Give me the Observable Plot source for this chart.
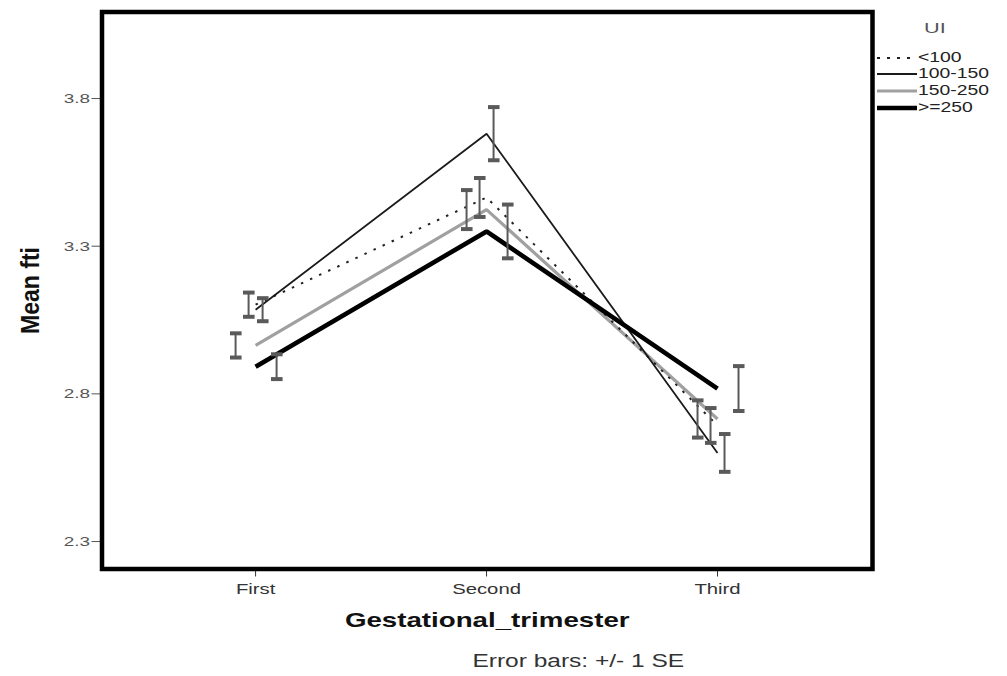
<!DOCTYPE html>
<html>
<head>
<meta charset="utf-8">
<script src="https://cdn.jsdelivr.net/npm/d3@7"></script>
<script src="https://cdn.jsdelivr.net/npm/@observablehq/plot@0.6"></script>
<style>
  body { margin: 0; background: #fff; }
  #wrap { position: relative; width: 1007px; height: 676px; overflow: hidden; }
  #legend { position: absolute; left: 0; top: 0; width: 1007px; height: 676px; pointer-events: none;
            font-family: "Liberation Sans", Arial, sans-serif; }
  #legend .title { position: absolute; left: 924px; top: 19px; font-size: 15.5px; color: #555;
                   transform: scaleX(1.4); transform-origin: left center; line-height: 18px; }
  #legend .row { position: absolute; left: 877px; height: 16px; display: flex; align-items: center; }
  #legend .row span { font-size: 13.8px; color: #222; display: inline-block; transform: scaleX(1.4);
                      transform-origin: left center; line-height: 16px; margin-left: 1px; }
</style>
</head>
<body>
<div id="wrap"><div id="legend"></div></div>
<script>
// ---- data ----
const trimesters = ["First", "Second", "Third"];
const groups = ["<100", "100-150", "150-250", ">=250"];
const meanLt100    = [3.102, 3.465, 2.693];
const mean100to150 = [3.085, 3.681, 2.600];
const mean150to250 = [2.964, 3.424, 2.715];
const meanGe250    = [2.892, 3.350, 2.818];
const seLt100    = [0.041, 0.066, 0.059];
const se100to150 = [0.039, 0.090, 0.064];
const se150to250 = [0.041, 0.066, 0.063];
const seGe250    = [0.042, 0.091, 0.076];
const yTicks = [2.3, 2.8, 3.3, 3.8];
const legendTitle = "UI";
const xLabel = "Gestational_trimester";
const yLabel = "Mean fti";
const caption = "Error bars: +/- 1 SE";

const means = [meanLt100, mean100to150, mean150to250, meanGe250];
const ses = [seLt100, se100to150, se150to250, seGe250];
const rows = groups.flatMap((g, k) =>
  trimesters.map((t, i) => ({group: g, i, trimester: t, mean: means[k][i], se: ses[k][i]})));

// ---- styles ----
const style = {
  "<100":    {stroke: "#222", strokeWidth: 2, strokeDasharray: "2.5,7.5", dodge: -7},
  "100-150": {stroke: "#1a1a1a", strokeWidth: 1.8, dodge: 7},
  "150-250": {stroke: "#a0a0a0", strokeWidth: 3.2, dodge: -20},
  ">=250":   {stroke: "#000", strokeWidth: 4.6, dodge: 21}
};
const drawOrder = ["150-250", "<100", "100-150", ">=250"];
const FONT = '"Liberation Sans", Arial, sans-serif';

const lineMarks = drawOrder.map(g => Plot.line(rows.filter(d => d.group === g), {
  x: "i", y: "mean",
  stroke: style[g].stroke, strokeWidth: style[g].strokeWidth,
  strokeDasharray: style[g].strokeDasharray, strokeLinecap: "butt", strokeLinejoin: "miter"
}));

const errMarks = groups.map(g => Plot.link(rows.filter(d => d.group === g), {
  x1: "i", x2: "i",
  y1: d => d.mean - d.se, y2: d => d.mean + d.se,
  dx: style[g].dodge,
  stroke: "#5a5a5a", strokeWidth: 2,
  markerStart: "tick", markerEnd: "tick"
}));

const chart = Plot.plot({
  width: 1007,
  height: 676,
  marginTop: 11.5,
  marginBottom: 107.5,
  marginLeft: 101.5,
  marginRight: 135,
  style: {fontFamily: FONT, fontSize: "14px", background: "#fff", color: "#000", overflow: "visible"},
  x: {domain: [-0.665, 2.671]},
  y: {domain: [2.207, 4.093]},
  marks: [
    ...lineMarks,
    ...errMarks,
    Plot.axisY({ticks: yTicks, tickSize: 10, tickPadding: 2, tickFormat: d => d.toFixed(1),
                fontSize: 13.5, color: "#555", label: null}),
    Plot.axisX({ticks: [0, 1, 2], tickSize: 8, tickPadding: 7, tickFormat: i => trimesters[i],
                fontSize: 14.5, color: "#333", label: null}),
    Plot.frame({stroke: "#000", strokeWidth: 4.5}),
    Plot.text([xLabel], {frameAnchor: "bottom", lineAnchor: "middle", textAnchor: "middle", dy: 52,
                         text: d => d, fontSize: 19.8, fontWeight: "bold", fill: "#111"}),
    Plot.text([caption], {frameAnchor: "bottom", lineAnchor: "middle", textAnchor: "middle", dx: 91, dy: 92.5,
                          text: d => d, fontSize: 17.5, fill: "#333"}),
    Plot.text([yLabel], {frameAnchor: "left", lineAnchor: "middle", textAnchor: "middle", dx: -71, rotate: -90,
                         text: d => d, fontSize: 25, fontWeight: "bold", fill: "#111"})
  ]
});

document.getElementById("wrap").prepend(chart);

// Emulate the horizontally stretched type of the original picture
chart.querySelectorAll("text").forEach(t => {
  const len = t.getComputedTextLength();
  if (!(len > 0)) return;
  if (t.textContent === yLabel) {
    t.setAttribute("textLength", "87");
  } else {
    t.setAttribute("textLength", (len * 1.4).toFixed(2));
  }
  t.setAttribute("lengthAdjust", "spacingAndGlyphs");
});

// ---- legend ----
const legend = document.getElementById("legend");
const title = document.createElement("div");
title.className = "title";
title.textContent = legendTitle;
legend.appendChild(title);
const rowTops = [50, 66, 83, 99.5];
groups.forEach((g, k) => {
  const row = document.createElement("div");
  row.className = "row";
  row.style.top = rowTops[k] + "px";
  const s = style[g];
  const ns = "http://www.w3.org/2000/svg";
  const svg = document.createElementNS(ns, "svg");
  svg.setAttribute("width", 40); svg.setAttribute("height", 16);
  const ln = document.createElementNS(ns, "line");
  ln.setAttribute("x1", 0); ln.setAttribute("x2", 40);
  ln.setAttribute("y1", 8); ln.setAttribute("y2", 8);
  ln.setAttribute("stroke", s.stroke);
  ln.setAttribute("stroke-width", s.strokeWidth);
  if (s.strokeDasharray) ln.setAttribute("stroke-dasharray", "3,7");
  svg.appendChild(ln);
  const span = document.createElement("span");
  span.textContent = g;
  row.appendChild(svg); row.appendChild(span);
  legend.appendChild(row);
});
</script>
</body>
</html>
